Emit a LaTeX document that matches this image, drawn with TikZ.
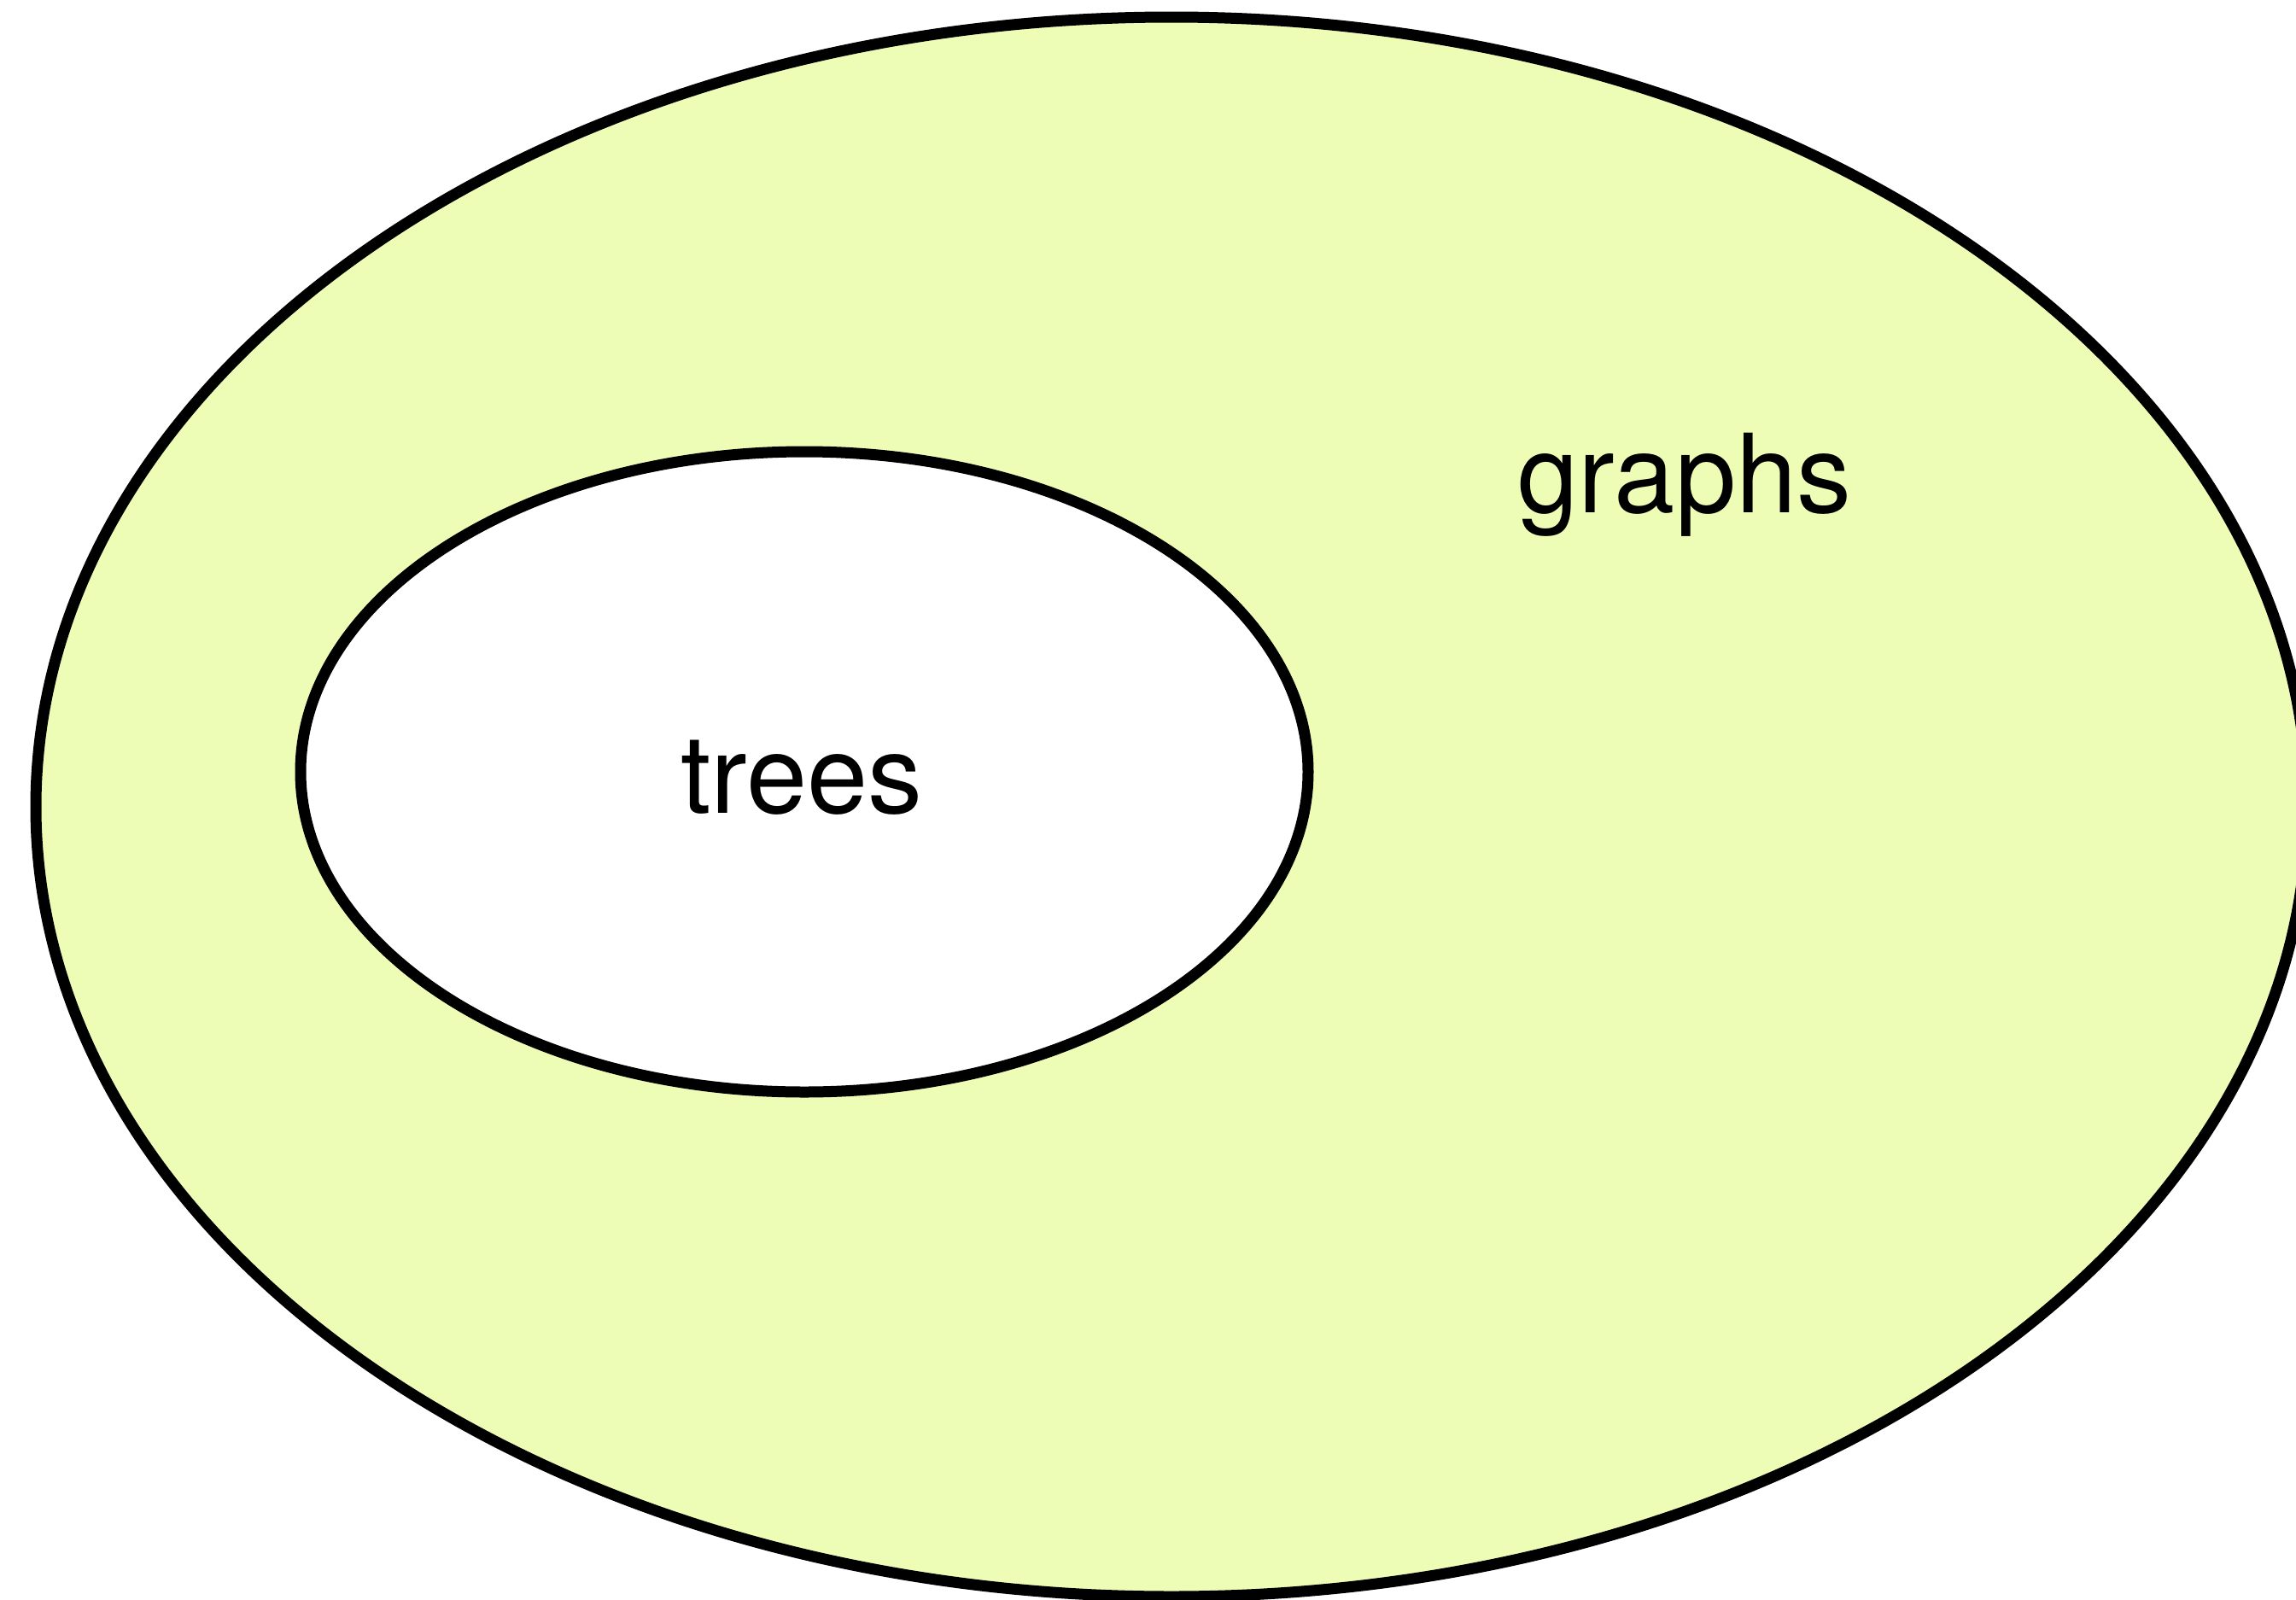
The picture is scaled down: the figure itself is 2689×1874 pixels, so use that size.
\documentclass[tikz,border=0pt]{standalone}
\usepackage{fontspec}
\setmainfont{TeX Gyre Heros}
\usetikzlibrary{shapes.geometric}
\definecolor{graphfill}{RGB}{238,253,181}
\tikzset{
  setshape/.style={ellipse, draw=black, line width=6.5pt, inner sep=0pt},
  setlabel/.style={font=\fontsize{64pt}{64pt}\selectfont, anchor=base, inner sep=0pt}
}
\begin{document}
\begin{tikzpicture}[x=0.5pt,y=-0.5pt]
\useasboundingbox (0,0) rectangle (2689,1874);
\fill[white] (0,0) rectangle (2689,1874);
\begin{scope}
\clip (0,0) rectangle (2689,1874);
\node[setshape, fill=graphfill, minimum width=1330pt, minimum height=925pt] (graphs) at (1372,945) {};
\node[setshape, fill=white, minimum width=590pt, minimum height=375pt] (trees) at (942,904) {};
\end{scope}
\node[setlabel] (treeslabel) at (939,952) {trees};
\node[setlabel] (graphslabel) at (1973,600) {graphs};
\end{tikzpicture}
\end{document}
